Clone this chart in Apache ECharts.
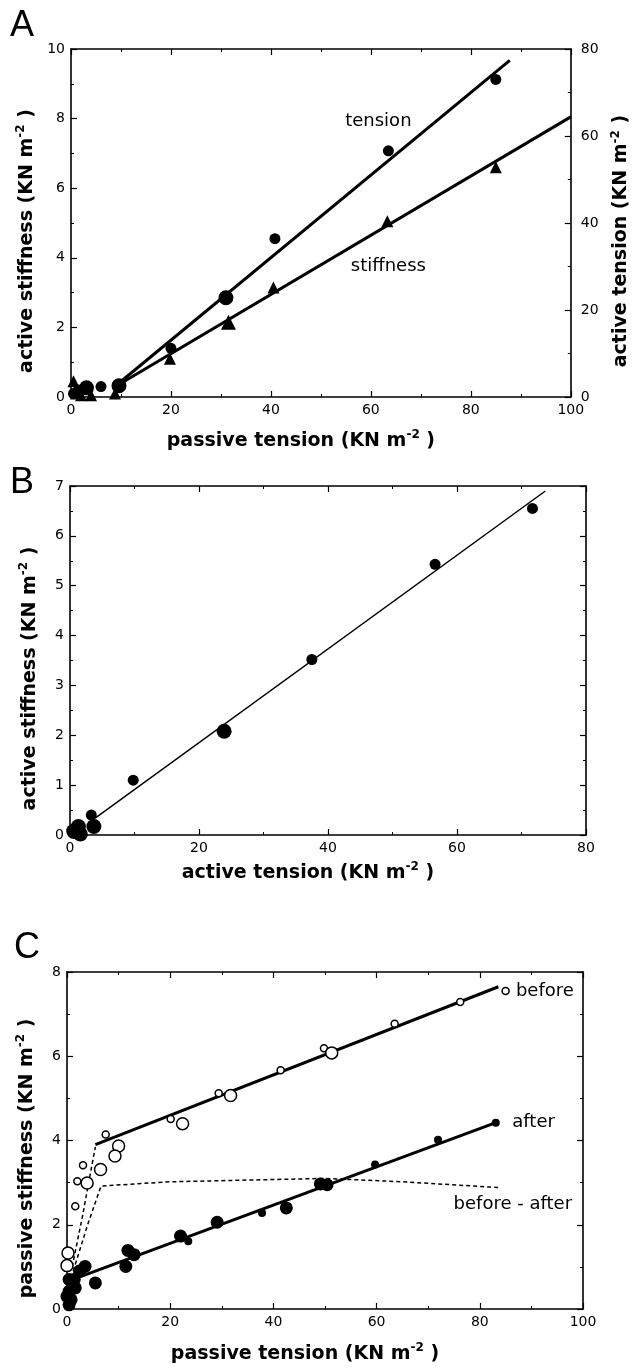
<!DOCTYPE html>
<html><head><meta charset="utf-8">
<script src="https://cdn.jsdelivr.net/npm/echarts@6/dist/echarts.min.js"></script>
<style>html,body{margin:0;padding:0;background:#fff}#c{width:639px;height:1368px}</style>
</head><body><div id="c"></div>
<script>
// ---------- Panel A ----------
const aTensionSmall = [[85,73],[63.5,56.6],[40.8,36.4],[20,11.2],[6,2.4],[1.5,1.6],[0.5,0.8]];
const aTensionLarge = [[31,22.8],[9.6,2.6],[3.1,2.1]];
const aStiffSmall = [[85,6.6],[63.3,5.05],[40.5,3.15],[19.8,1.1],[0.5,0.45],[8.8,0.1],[2,0.05],[4,0.05],[1,0.1]];
const aStiffLarge = [[31.5,2.15]];
const aTensionFit = [[9.5,3.1],[87.8,77.4]];
const aStiffFit = [[9.5,0.35],[100,8.05]];
const aNotes = [{text:'tension', at:[61.5,7.92]}, {text:'stiffness', at:[63.5,3.76]}];
// ---------- Panel B ----------
const bSmall = [[71.7,6.55],[56.6,5.43],[37.5,3.52],[9.8,1.1],[3.3,0.4],[0.3,0.1]];
const bLarge = [[23.9,2.08],[3.7,0.17],[1.3,0.17],[1.6,0.02],[0.6,0.07]];
const bFit = [[3.9,0.34],[73.7,6.9]];
// ---------- Panel C ----------
const cBeforeSmall = [[85,7.55],[76.2,7.29],[63.5,6.77],[49.8,6.19],[41.4,5.67],[29.4,5.12],[20.1,4.51],[7.5,4.14],[3.1,3.41],[2,3.03],[1.6,2.44]];
const cBeforeLarge = [[51.3,6.08],[31.7,5.07],[22.4,4.40],[10,3.87],[9.3,3.63],[6.5,3.31],[3.9,2.99],[0.2,1.33],[0,1.03]];
const cAfterSmall = [[83.1,4.42],[71.9,4.02],[59.7,3.43],[37.8,2.28],[23.5,1.61]];
const cAfterLarge = [[50.4,2.95],[49.1,2.97],[42.5,2.4],[29.1,2.06],[22,1.73],[11.8,1.39],[13,1.29],[11.4,1.01],[5.5,0.62],[3.5,1.01],[2.4,0.9],[1.4,0.7],[0.4,0.7],[1.6,0.5],[0.4,0.42],[0.8,0.22],[0.4,0.1],[0,0.3]];
const cBeforeFit = [[5.5,3.9],[83.6,7.65]];
const cAfterFit = [[0,0.65],[83.5,4.44]];
const cBeforeCurve = [[1,1.0],[3,2.2],[4.5,3.2],[5.5,3.85]];
const cDiff = [[1.2,0.9],[4,2.0],[6.6,2.92],[20,3.02],[35,3.06],[50,3.1],[65,3.02],[84,2.88]];
const cNotes = [{text:'before', at:[87,7.55], align:'left'}, {text:'after', at:[86.3,4.44], align:'left'}, {text:'before - after', at:[86.4,2.48], align:'center'}];

const F = 'DejaVu Sans';
const rich = {
  t: {fontSize: 19, fontWeight: 'bold', fontFamily: F, color: '#000', lineHeight: 24},
  s: {fontSize: 12, fontWeight: 'bold', fontFamily: F, color: '#000', verticalAlign: 'top', lineHeight: 24}
};
const title = (s) => '{t|' + s + ' (KN m}{s|-2}{t| )}';
const tick = {inside: true, length: 6, lineStyle: {color: '#000', width: 1.2}};
const minor = {show: true, splitNumber: 2, length: 3, lineStyle: {color: '#000', width: 1}};
const line = {onZero: false, lineStyle: {color: '#000', width: 1.6}};
const lbl = {color: '#000', fontSize: 14, fontFamily: F, margin: 6};

function xAx(grid, min, max, interval, name, gap) {
  return [
    {type: 'value', gridIndex: grid, position: 'bottom', min, max, interval, axisLine: line, axisTick: tick, minorTick: minor, splitLine: {show: false}, axisLabel: lbl,
     name: title(name), nameLocation: 'middle', nameGap: gap, nameTextStyle: {rich, padding: [0, 40, 0, 0]}},
    {type: 'value', gridIndex: grid, position: 'top', min, max, interval, axisLine: line, axisTick: tick, minorTick: minor, splitLine: {show: false}, axisLabel: {show: false}}
  ];
}
function yAx(grid, min, max, interval, name, gap, right) {
  const l = {type: 'value', gridIndex: grid, position: 'left', min, max, interval, axisLine: line, axisTick: tick, minorTick: minor, splitLine: {show: false}, axisLabel: lbl,
     name: title(name), nameLocation: 'middle', nameGap: gap, nameRotate: 90, nameTextStyle: {rich, padding: [0, 36, 0, 0]}};
  const r = right ? Object.assign({type: 'value', gridIndex: grid, position: 'right', axisLine: line, axisTick: tick, minorTick: minor, splitLine: {show: false},
     axisLabel: Object.assign({}, lbl, {margin: 10}), nameLocation: 'middle', nameRotate: 90, nameTextStyle: {rich, padding: [0, 36, 0, 0]}}, right)
    : {type: 'value', gridIndex: grid, position: 'right', min, max, interval, axisLine: line, axisTick: tick, minorTick: minor, splitLine: {show: false}, axisLabel: {show: false}};
  return [l, r];
}

const xAxes = [].concat(
  xAx(0, 0, 100, 20, 'passive tension', 32),
  xAx(1, 0, 80, 20, 'active tension', 26),
  xAx(2, 0, 100, 20, 'passive tension', 33)
);
const yAxes = [].concat(
  yAx(0, 0, 10, 2, 'active stiffness', 26, {min: 0, max: 80, interval: 20, name: title('active tension'), nameGap: 30}),
  yAx(1, 0, 7, 1, 'active stiffness', 28),
  yAx(2, 0, 8, 2, 'passive stiffness', 28)
);

function sc(x, y, data, size, symbol, open) {
  return {type: 'scatter', xAxisIndex: x, yAxisIndex: y, data, symbol, symbolSize: size, z: 5,
    itemStyle: open ? {color: '#fff', borderColor: '#000', borderWidth: 1.5, opacity: 1} : {color: '#000', opacity: 1},
    emphasis: {disabled: true}};
}
function ln(x, y, data, width, dashed) {
  return {type: 'line', xAxisIndex: x, yAxisIndex: y, data, showSymbol: false, symbol: 'none', z: 3,
    lineStyle: {color: '#000', width, opacity: 1, type: dashed ? [4, 3] : 'solid'}};
}
function notes(x, y, list, size) {
  return {type: 'scatter', xAxisIndex: x, yAxisIndex: y, symbolSize: 0, z: 6,
    itemStyle: {opacity: 1},
    data: list.map(n => ({value: n.at, name: n.text, label: {align: n.align || 'center'}})),
    label: {show: true, position: 'inside', formatter: p => p.name, color: '#000', opacity: 1, fontSize: size, fontFamily: F, verticalAlign: 'middle'}};
}

const series = [
  ln(0, 1, aTensionFit, 3), ln(0, 0, aStiffFit, 3),
  sc(0, 1, aTensionSmall, 11, 'circle'), sc(0, 1, aTensionLarge, 15, 'circle'),
  sc(0, 0, aStiffSmall, 12, 'triangle'), sc(0, 0, aStiffLarge, 15, 'triangle'),
  notes(0, 0, aNotes, 18),
  ln(2, 2, bFit, 1.5),
  sc(2, 2, bSmall, 11, 'circle'), sc(2, 2, bLarge, 15, 'circle'),
  ln(4, 4, cBeforeFit, 3), ln(4, 4, cAfterFit, 3),
  ln(4, 4, cBeforeCurve, 1.5, true), ln(4, 4, cDiff, 1.5, true),
  sc(4, 4, cBeforeSmall, 7, 'circle', true), sc(4, 4, cBeforeLarge, 12, 'circle', true),
  sc(4, 4, cAfterSmall, 8, 'circle'), sc(4, 4, cAfterLarge, 13, 'circle'),
  notes(4, 4, cNotes, 18)
];

const chart = echarts.init(document.getElementById('c'), null, {renderer: 'canvas'});
chart.setOption({
  animation: false,
  backgroundColor: '#fff',
  grid: [
    {left: 71, top: 49, width: 515, height: 348},
    {left: 70, top: 486, width: 516, height: 349},
    {left: 67, top: 972, width: 516, height: 337}
  ],
  xAxis: xAxes,
  yAxis: yAxes,
  series,
  graphic: [
    {type: 'text', left: 10, top: 8, style: {text: 'A', font: '36px Liberation Sans', fill: '#000'}},
    {type: 'text', left: 10, top: 465, style: {text: 'B', font: '36px Liberation Sans', fill: '#000'}},
    {type: 'text', left: 14, top: 930, style: {text: 'C', font: '36px Liberation Sans', fill: '#000'}}
  ]
});
</script></body></html>
